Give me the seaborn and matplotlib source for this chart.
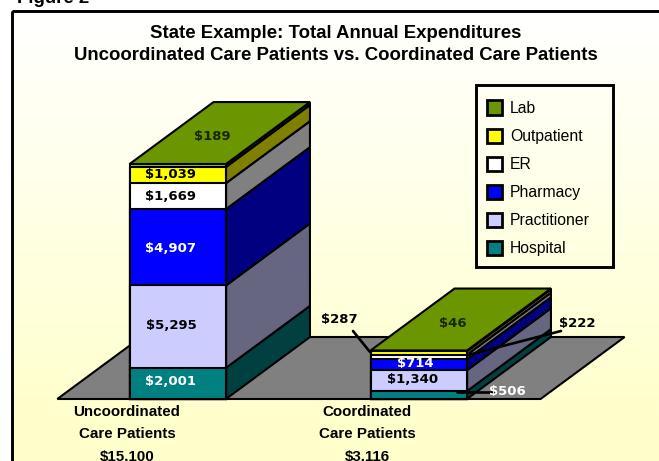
import numpy as np
import matplotlib
matplotlib.use('Agg')
import matplotlib.pyplot as plt
import seaborn as sns
from matplotlib.patches import Patch, Polygon, Rectangle
from matplotlib.transforms import Affine2D

# ---------- dados ----------
grupos = ['Uncoordinated Care Patients', 'Coordinated Care Patients']
totais = ['$15,100', '$3,116']
hospital = [2001, 506]
practitioner = [5295, 1340]
pharmacy = [4907, 714]
er = [1669, 287]
outpatient = [1039, 222]
lab = [189, 46]

camadas = ['Hospital', 'Practitioner', 'Pharmacy', 'ER', 'Outpatient', 'Lab']
valores = np.array([hospital, practitioner, pharmacy, er, outpatient, lab])
cor_frente = ['#008080', '#CCCCFF', '#0000FF', '#FFFFFF', '#FFFF00', '#99CC00']
cor_lado = ['#004040', '#666680', '#000080', '#808080', '#808000', '#355000']
cor_topo = '#6B9600'

sns.set_theme(style='white')
plt.rcParams['font.family'] = ['Liberation Sans', 'DejaVu Sans']

W, H = 659, 461
fig = plt.figure(figsize=(W / 100, H / 100), dpi=100, facecolor='white')
ax = fig.add_axes([0, 0, 1, 1])

# escala: px por categoria e px por dólar
px_cat = 241.0
px_usd = 0.01556
x0_px, y0_px = 177.75, 399.0
ax_xlim = (-x0_px / px_cat, (W - x0_px) / px_cat)
ax_ylim = ((y0_px - H) / px_usd, y0_px / px_usd)
larg = 0.40
dx, dy = 84 / px_cat, 62 / px_usd
pix = Affine2D().scale(1 / W, -1 / H).translate(0, 1) + fig.transFigure

# fundo com degradê e moldura
grad = np.linspace(0, 1, 256).reshape(-1, 1)
ax.imshow(np.dstack([np.ones_like(grad), np.ones_like(grad), 1 - 0.2 * grad]),
          extent=(12, W, 420, 12), transform=pix, aspect='auto', zorder=0)
ax.add_patch(Rectangle((12, 419), W, 60, transform=pix, color='#FFFFCC', lw=0, zorder=0))

# piso
piso_x0, piso_x1 = -0.4998, 1.5055
ax.add_patch(Polygon([(piso_x0, 0), (piso_x1, 0), (piso_x1 + dx, dy), (piso_x0 + dx, dy)],
                     facecolor='#808080', edgecolor='black', lw=1.5, zorder=1))

# faces laterais e topo
acum = np.cumsum(valores, axis=0)
for g in range(len(grupos)):
    direita = g + larg / 2
    base = 0
    for c in range(len(camadas)):
        topo = acum[c, g]
        ax.add_patch(Polygon([(direita, base), (direita + dx, base + dy),
                              (direita + dx, topo + dy), (direita, topo)],
                             facecolor=cor_lado[c], edgecolor='black', lw=1.5, zorder=2))
        base = topo
    ax.add_patch(Polygon([(g - larg / 2, base), (direita, base),
                          (direita + dx, base + dy), (g - larg / 2 + dx, base + dy)],
                         facecolor=cor_topo, edgecolor='black', lw=1.5, zorder=2))

# faces frontais: barras empilhadas, da mais alta para a mais baixa
for c in reversed(range(len(camadas))):
    sns.barplot(x=grupos, y=acum[c], color=cor_frente[c], saturation=1, width=larg,
                edgecolor='black', linewidth=1.5, zorder=3, ax=ax)

ax.set_xlim(ax_xlim)
ax.set_ylim(ax_ylim)
ax.axis('off')

# rótulos de valor: (camada, grupo, x px, y px, cor)
rotulos = [(0, 0, 171, 381, 'white'), (1, 0, 171, 325, 'black'), (2, 0, 171, 248, 'white'),
           (3, 0, 170, 196, 'black'), (4, 0, 170, 174.5, 'black'), (5, 0, 212, 136, '#1A2600'),
           (0, 1, 507.5, 391.5, 'white'), (1, 1, 412.5, 379, 'black'), (2, 1, 415, 363.5, 'white'),
           (3, 1, 339, 319, 'black'), (4, 1, 577, 323, 'black'), (5, 1, 453, 323, '#1A2600')]
for c, g, xp, yp, cor in rotulos:
    ax.text(xp, yp, f'${valores[c, g]:,}', transform=pix, ha='center', va='center', color=cor,
            family='DejaVu Sans', fontweight='bold', fontsize=9.5, zorder=6)

# linhas de chamada
for (xa, ya), (xb, yb) in [((353, 331), (370, 352)), ((561, 331), (468, 355)), ((457, 392), (495, 392))]:
    ax.plot([xa, xb], [ya, yb], color='black', lw=1.9, transform=pix, zorder=5)

# títulos
fig.text(336, 34, 'State Example: Total Annual Expenditures', transform=pix, ha='center', va='center',
         fontweight='bold', fontsize=13.45, color='black')
fig.text(336, 55.5, 'Uncoordinated Care Patients vs. Coordinated Care Patients', transform=pix,
         ha='center', va='center', fontweight='bold', fontsize=13.45, color='black')
fig.text(17, 3, 'Figure 2', transform=pix, ha='left', va='baseline', fontweight='bold',
         fontsize=13.45, color='black')

# nomes das categorias
linhas_cat = [['Uncoordinated', 'Care Patients'], ['Coordinated', 'Care Patients']]
for g, xp in enumerate([127, 367]):
    for i, txt in enumerate(linhas_cat[g] + [totais[g]]):
        fig.text(xp, 412 + 22 * i, txt, transform=pix, ha='center', va='center',
                 fontweight='bold', fontsize=10.9, color='black')

# moldura
ax.add_patch(Rectangle((12, 11.3), W, H, transform=pix, fill=False, edgecolor='black',
                       lw=2.1, zorder=7, clip_on=True))

# legenda
ax.add_patch(Rectangle((475.5, 85.5), 137, 181.5, transform=pix, fill=False, edgecolor='black',
                       lw=2.1, zorder=6))
handles = [Patch(facecolor=cor_topo if c == 5 else cor_frente[c], edgecolor='black', lw=2, label=camadas[c])
           for c in reversed(range(len(camadas)))]
leg = ax.legend(handles=handles, loc='upper left', bbox_to_anchor=(487.5 / W, 1 - 100.5 / H),
                bbox_transform=fig.transFigure, frameon=False, fontsize=11.3, handlelength=0.95,
                handleheight=1.0, handletextpad=0.47, labelspacing=0.81, borderpad=0, borderaxespad=0)
for t in leg.get_texts():
    t.set_color('black')
leg.set_zorder(6)

fig.savefig('out.png', dpi=100)
